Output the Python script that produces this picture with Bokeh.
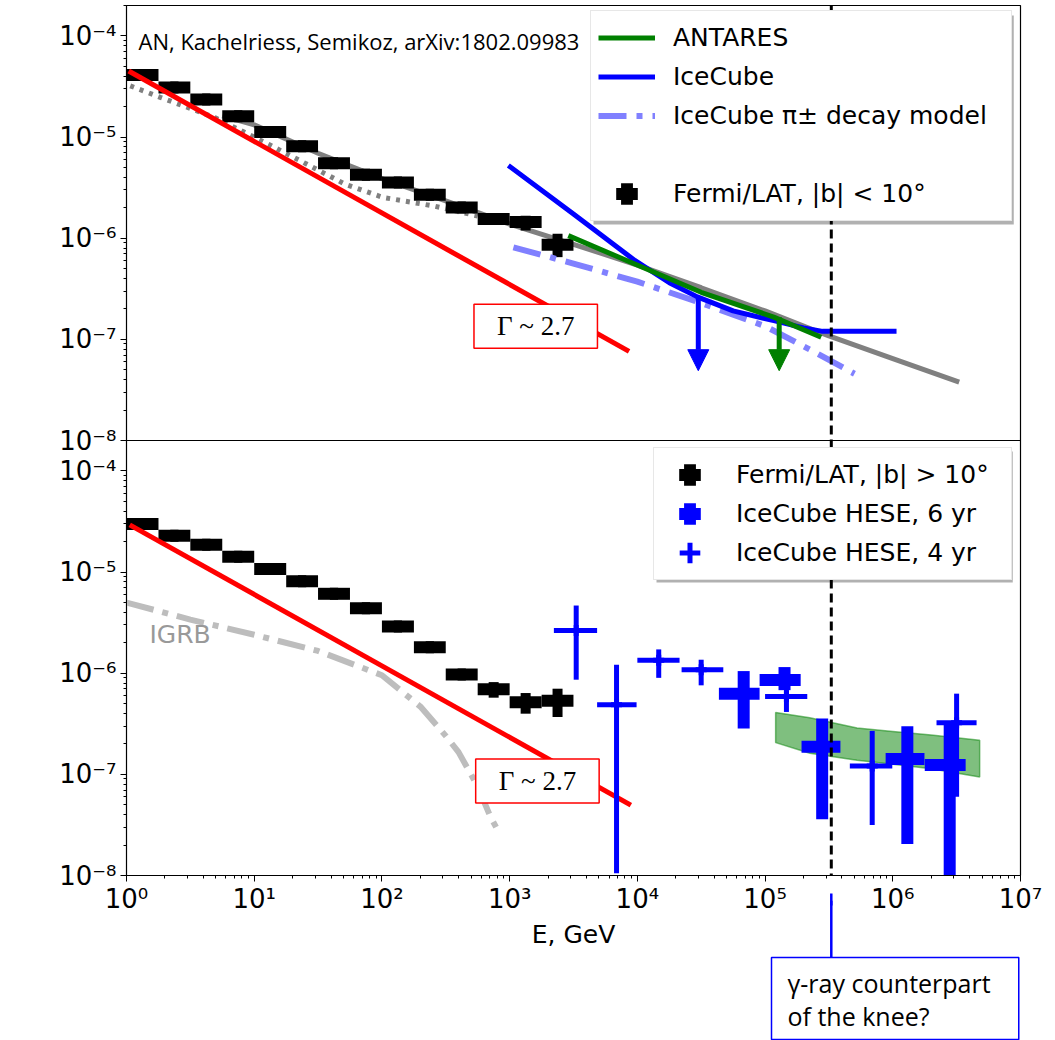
import math
from bokeh.plotting import figure
from bokeh.layouts import column
from bokeh.models import (Range1d, LogScale, FixedTicker, CustomJSTickFormatter, Legend,
                          LegendItem, Label, Span, Arrow, NormalHead)
from bokeh.embed import file_html
from bokeh.resources import INLINE

# ---------------- data: E [GeV], E^2 dN/dE [GeV/(cm^2 s)] ----------------
fermi_edges = [1.0, 1.78, 3.16, 5.62, 10.0, 17.8, 31.6, 56.2, 100.0, 178.0, 316.0, 562.0, 1000.0, 1780.0, 3160.0]

# Fermi/LAT |b| < 10 deg (top panel)
fermi_in = [4.1e-5, 3.1e-5, 2.35e-5, 1.61e-5, 1.12e-5, 8.1e-6, 5.5e-6, 4.24e-6, 3.56e-6, 2.69e-6, 2.01e-6, 1.55e-6, 1.45e-6, 8.6e-7]
fermi_in_hi = [4.3e-5, 3.25e-5, 2.45e-5, 1.68e-5, 1.17e-5, 8.5e-6, 5.75e-6, 4.45e-6, 3.75e-6, 2.85e-6, 2.13e-6, 1.66e-6, 1.67e-6, 1.11e-6]
fermi_in_lo = [3.9e-5, 2.95e-5, 2.25e-5, 1.54e-5, 1.07e-5, 7.7e-6, 5.25e-6, 4.05e-6, 3.4e-6, 2.55e-6, 1.9e-6, 1.45e-6, 1.19e-6, 6.5e-7]

# Fermi/LAT |b| > 10 deg (bottom panel)
fermi_out = [2.98e-5, 2.29e-5, 1.86e-5, 1.42e-5, 1.07e-5, 8.1e-6, 6.1e-6, 4.4e-6, 2.9e-6, 1.81e-6, 9.7e-7, 6.95e-7, 5.15e-7, 5.35e-7]
fermi_out_hi = [3.1e-5, 2.38e-5, 1.93e-5, 1.48e-5, 1.11e-5, 8.4e-6, 6.35e-6, 4.6e-6, 3.0e-6, 1.9e-6, 1.03e-6, 8.17e-7, 6.37e-7, 7.03e-7]
fermi_out_lo = [2.86e-5, 2.2e-5, 1.79e-5, 1.36e-5, 1.03e-5, 7.8e-6, 5.85e-6, 4.2e-6, 2.8e-6, 1.72e-6, 9.1e-7, 5.73e-7, 3.98e-7, 3.69e-7]

# model curves, top panel
gray_fit_E = [5.62, 10.0, 31.6, 100.0, 316.0, 1000.0, 3160.0, 1.0e4, 3.16e4, 1.0e5, 3.16e5, 1.0e6, 3.31e6]
gray_fit_F = [1.62e-5, 1.32e-5, 6.92e-6, 3.89e-6, 2.34e-6, 1.38e-6, 8.71e-7, 5.43e-7, 3.24e-7, 1.91e-7, 1.08e-7, 6.46e-8, 3.77e-8]
gray_dot_E = [1.07, 1.86, 4.9, 12.9, 25.7, 51.3, 102.0, 251.0, 562.0]
gray_dot_F = [3.21e-5, 2.46e-5, 1.56e-5, 8.51e-6, 5.41e-6, 3.43e-6, 2.53e-6, 2.09e-6, 1.66e-6]
red_top_E = [1.04, 8610.0]
red_top_F = [4.5e-5, 7.6e-8]
icecube_E = [977.0, 3160.0, 9550.0, 1.78e4, 2.95e4, 5.62e4, 1.17e5, 2.0e5, 2.82e5, 1.07e6]
icecube_F = [5.25e-6, 1.74e-6, 6.03e-7, 3.63e-7, 2.63e-7, 1.91e-7, 1.53e-7, 1.30e-7, 1.20e-7, 1.20e-7]
antares_E = [2880.0, 9550.0, 3.16e4, 1.17e5, 2.75e5]
antares_F = [1.06e-6, 5.56e-7, 2.92e-7, 1.66e-7, 1.05e-7]
pimodel_E = [1070.0, 3160.0, 1.0e4, 3.16e4, 1.0e5, 2.24e5, 5.01e5]
pimodel_F = [8.13e-7, 5.62e-7, 3.72e-7, 2.29e-7, 1.35e-7, 7.94e-8, 4.57e-8]
# upper-limit arrows (IceCube, ANTARES)
ul_E = [3.0e4, 1.29e5]
ul_F_from = [2.6e-7, 1.66e-7]
ul_F_to = [4.9e-8, 4.9e-8]
ul_color = ["blue", "green"]

# bottom panel
igrb_E = [1.0, 3.16, 10.0, 31.6, 100.0, 200.0, 316.0, 398.0, 562.0, 708.0, 813.0]
igrb_F = [5.0e-6, 3.39e-6, 2.4e-6, 1.66e-6, 9.55e-7, 4.68e-7, 2.4e-7, 1.66e-7, 7.59e-8, 3.8e-8, 2.75e-8]
red_bot_E = [1.06, 8890.0]
red_bot_F = [2.93e-5, 4.97e-8]
band_E = [1.21e5, 2.24e5, 5.25e5, 1.0e6, 2.0e6, 4.79e6]
band_hi = [4.1e-7, 3.63e-7, 2.88e-7, 2.66e-7, 2.45e-7, 2.17e-7]
band_lo = [2.06e-7, 1.62e-7, 1.38e-7, 1.26e-7, 1.135e-7, 9.4e-8]

hese6_E = [6.8e4, 1.42e5, 2.8e5, 1.3e6, 2.79e6]
hese6_Elo = [4.35e4, 9.06e4, 1.93e5, 8.79e5, 1.78e6]
hese6_Ehi = [9.06e4, 1.9e5, 3.89e5, 1.77e6, 3.72e6]
hese6_F = [6.28e-7, 8.55e-7, 1.87e-7, 1.42e-7, 1.24e-7]
hese6_Fhi = [1.05e-6, 1.15e-6, 3.56e-7, 2.99e-7, 3.18e-7]
hese6_Flo = [2.84e-7, 6.8e-7, 3.59e-8, 2.05e-8, 5.0e-9]

hese4_E = [3.32e3, 6.87e3, 1.47e4, 3.16e4, 1.47e5, 6.9e5, 3.16e6]
hese4_Elo = [2.22e3, 4.84e3, 1.0e4, 2.22e4, 1.0e5, 4.61e5, 2.2e6]
hese4_Ehi = [4.84e3, 9.86e3, 2.14e4, 4.71e4, 2.14e5, 9.91e5, 4.53e6]
hese4_F = [2.64e-6, 4.89e-7, 1.34e-6, 1.08e-6, 5.9e-7, 1.21e-7, 3.24e-7]
hese4_Fhi = [4.67e-6, 1.21e-6, 1.72e-6, 1.36e-6, 1.0e-6, 2.69e-7, 6.28e-7]
hese4_Flo = [8.63e-7, 1.05e-8, 9.0e-7, 7.59e-7, 4.14e-7, 3.16e-8, 6.0e-8]

knee_E = 3.3e5

# ---------------- main figure ----------------
X_LO, X_HI = 1.0, 1e7
Y_LO, Y_HI = 1e-8, 2e-4
SPAN = Y_HI / Y_LO          # the top panel sits one full panel height above the bottom one
W = 1055
FRAME_W = 894
ML, MT, MB = 126, 5, 78
FRAME_H = 870
H1 = MT + FRAME_H + MB
Q_TOP = 900                 # page row where the transparent call-out strip starts
H2 = 1040 - Q_TOP

p = figure(width=W, height=H1, x_axis_type="log", y_axis_type="log",
           x_range=Range1d(X_LO, X_HI), y_range=Range1d(Y_LO, Y_HI * SPAN),
           output_backend="svg", toolbar_location=None,
           min_border_left=ML, min_border_right=W - ML - FRAME_W, min_border_top=MT, min_border_bottom=MB)
p.extra_y_ranges = {"top": Range1d(Y_LO / SPAN, Y_HI)}
p.extra_y_scales = {"top": LogScale()}
p.grid.visible = False
p.outline_line_color = "black"
p.outline_line_width = 1.2
p.background_fill_color = "white"
p.border_fill_color = "white"

sup_code = """
let v = tick;
if (span > 1 && v > yhi * 0.75) { v = v / span; }
const e = Math.round(Math.log10(v));
const m = {"-":"\\u207b","0":"\\u2070","1":"\\u00b9","2":"\\u00b2","3":"\\u00b3","4":"\\u2074","5":"\\u2075","6":"\\u2076","7":"\\u2077","8":"\\u2078","9":"\\u2079"};
let s = "10";
for (const c of String(e)) { s += m[c]; }
return s;
"""

ymaj = [10.0 ** k for k in range(-8, -3)]
ymin = [m * 10.0 ** k for k in range(-8, -3) for m in range(2, 10) if m * 10.0 ** k <= Y_HI * 1.001]
p.yaxis.ticker = FixedTicker(ticks=ymaj + [t * SPAN for t in ymaj],
                             minor_ticks=ymin + [t * SPAN for t in ymin])
p.yaxis.formatter = CustomJSTickFormatter(args=dict(span=SPAN, yhi=Y_HI), code=sup_code)
xmaj = [10.0 ** k for k in range(0, 8)]
xmin = [m * 10.0 ** k for k in range(0, 7) for m in range(2, 10)]
p.xaxis.ticker = FixedTicker(ticks=xmaj, minor_ticks=xmin)
p.xaxis.formatter = CustomJSTickFormatter(args=dict(span=1, yhi=1), code=sup_code)

for ax in (p.xaxis[0], p.yaxis[0]):
    ax.major_label_text_font = "DejaVu Sans"
    ax.major_label_text_font_size = "26px"
    ax.major_label_text_color = "black"
    ax.axis_line_color = "black"
    ax.major_tick_line_color = "black"
    ax.minor_tick_line_color = "black"
    ax.major_tick_in = 0
    ax.major_tick_out = 6
    ax.minor_tick_in = 0
    ax.minor_tick_out = 3
    ax.major_label_standoff = 4
p.xaxis.major_label_standoff = 2
p.xaxis.axis_label = "E, GeV"
p.xaxis.axis_label_text_font = "DejaVu Sans"
p.xaxis.axis_label_text_font_size = "25px"
p.xaxis.axis_label_text_font_style = "normal"
p.xaxis.axis_label_text_color = "black"
p.xaxis.axis_label_standoff = 3


def fermi_points(F, Flo, Fhi, rng):
    lo = fermi_edges[:-1]
    hi = fermi_edges[1:]
    c = [math.sqrt(a * b) for a, b in zip(lo, hi)]
    mk = p.scatter(c, F, marker="plus", size=6, line_width=6, line_join="miter", color="black", y_range_name=rng)
    p.segment(lo, F, hi, F, line_color="black", line_width=12, y_range_name=rng)
    p.segment(c, Flo, c, Fhi, line_color="black", line_width=10, y_range_name=rng)
    return mk


# ---------- top panel ----------
T = "top"
p.line(gray_dot_E, gray_dot_F, line_color="#808080", line_width=5, line_dash="4 6", y_range_name=T)
p.line(gray_fit_E, gray_fit_F, line_color="#808080", line_width=5, y_range_name=T)
r_fermi_in = fermi_points(fermi_in, fermi_in_lo, fermi_in_hi, T)
r_pi = p.line(pimodel_E, pimodel_F, line_color="#8080ff", line_width=6, line_dash="28 10 6 10", y_range_name=T)
r_ic = p.line(icecube_E, icecube_F, line_color="blue", line_width=5, y_range_name=T)
r_ant = p.line(antares_E, antares_F, line_color="green", line_width=5, y_range_name=T)
p.line(red_top_E, red_top_F, line_color="red", line_width=5, y_range_name=T)

# ---------- bottom panel ----------
p.line(igrb_E, igrb_F, line_color="#bdbdbd", line_width=6, line_dash="28 9 6 9")
p.patch(band_E + band_E[::-1], band_hi + band_lo[::-1], fill_color="green", fill_alpha=0.5,
        line_color="green", line_alpha=0.5, line_width=1.5)
r_fermi_out = fermi_points(fermi_out, fermi_out_lo, fermi_out_hi, "default")
p.line(red_bot_E, red_bot_F, line_color="red", line_width=5)
r_h4 = p.scatter(hese4_E, hese4_F, marker="cross", size=6, line_width=5, line_color="blue", line_cap="square")
p.segment(hese4_Elo, hese4_F, hese4_Ehi, hese4_F, line_color="blue", line_width=5)
p.segment(hese4_E, hese4_Flo, hese4_E, hese4_Fhi, line_color="blue", line_width=5)
r_h6 = p.scatter(hese6_E, hese6_F, marker="plus", size=6, line_width=6, line_join="miter", color="blue")
p.segment(hese6_Elo, hese6_F, hese6_Ehi, hese6_F, line_color="blue", line_width=12)
p.segment(hese6_E, hese6_Flo, hese6_E, hese6_Fhi, line_color="blue", line_width=12)
r_blank = p.line([], [], line_alpha=0)

# ---------- y-axis title (placed beside the bottom panel) ----------
p.add_layout(Label(x=-94, y=215, x_units="screen", y_units="screen", angle=90, angle_units="deg",
                   text="E²dN/dE, GeV/(cm² s)", text_font="DejaVu Sans", text_font_size="25px",
                   text_color="black", text_align="center", text_baseline="middle"))

# ---------- knee arrow head just below the axis ----------
knee_sx = FRAME_W * (math.log10(knee_E) - math.log10(X_LO)) / (math.log10(X_HI) - math.log10(X_LO))
p.add_layout(Arrow(x_start=knee_sx, y_start=-32, x_end=knee_sx, y_end=-18,
                   start_units="screen", end_units="screen", line_color="blue", line_width=2.5,
                   end=NormalHead(size=12, fill_color="blue", line_color="blue")))

# upper-limit arrows (inside the frame)
for e, f0, f1, col in zip(ul_E, ul_F_from, ul_F_to, ul_color):
    p.add_layout(Arrow(x_start=e, y_start=f0, x_end=e, y_end=f1, y_range_name=T,
                       line_color=col, line_width=5,
                       end=NormalHead(size=21, fill_color=col, line_color=col)))

# panel separator
p.add_layout(Span(location=Y_HI, dimension="width", line_color="black", line_width=1.2))

# ---------- legends (with a soft drop shadow) ----------
tiny = dict(text=" ", text_font_size="1px", x_units="screen", y_units="screen")
shadow = dict(background_fill_color="#a8a8a8", background_fill_alpha=0.9, anchor="top_left", **tiny)
p.add_layout(Label(x=467, y=860, padding=dict(left=210, right=210, top=104, bottom=104), **shadow))
p.add_layout(Label(x=530, y=424, padding=dict(left=178, right=178, top=65, bottom=65), **shadow))

leg_style = dict(label_text_font="DejaVu Sans", label_text_font_size="25px", label_text_color="black",
                 glyph_width=57, glyph_height=39, label_height=39, spacing=0, padding=7,
                 label_standoff=18, border_line_color="#d0d0d0", border_line_width=1.5,
                 background_fill_color="white", background_fill_alpha=1.0)
leg_top = Legend(items=[LegendItem(label="ANTARES", renderers=[r_ant]),
                        LegendItem(label="IceCube", renderers=[r_ic]),
                        LegendItem(label="IceCube π± decay model", renderers=[r_pi]),
                        LegendItem(label=" ", renderers=[r_blank]),
                        LegendItem(label="Fermi/LAT, |b| < 10°", renderers=[r_fermi_in])],
                 location=(464, 654), label_width=331, **leg_style)
leg_bot = Legend(items=[LegendItem(label="Fermi/LAT, |b| > 10°", renderers=[r_fermi_out]),
                        LegendItem(label="IceCube HESE, 6 yr", renderers=[r_h6]),
                        LegendItem(label="IceCube HESE, 4 yr", renderers=[r_h4])],
                 location=(527, 295), label_width=268, **leg_style)
p.add_layout(leg_top)
p.add_layout(leg_bot)

# ---------- texts & overlays ----------
p.add_layout(Label(x=12, y=835, x_units="screen", y_units="screen",
                   text="AN, Kachelriess, Semikoz, arXiv:1802.09983",
                   text_font="Open Sans", text_font_size="22px", text_color="black",
                   text_align="left", text_baseline="alphabetic"))
p.add_layout(Label(x=23, y=241, x_units="screen", y_units="screen", text="IGRB",
                   text_font="DejaVu Sans", text_font_size="25px", text_color="#999999",
                   text_align="left", text_baseline="middle"))
gamma_style = dict(text="Γ ~ 2.7", text_font="Liberation Serif", text_font_size="27px",
                   text_color="black", anchor="center", text_align="center", text_baseline="middle",
                   padding=dict(left=23, right=23, top=7, bottom=7),
                   border_line_color="red", border_line_width=1.5,
                   background_fill_color="white", background_fill_alpha=1.0)
p.add_layout(Label(x=1600, y=1.35e-7, y_range_name=T, **gamma_style))
p.add_layout(Label(x=1650, y=8.6e-8, **gamma_style))

p.add_layout(Span(location=knee_E, dimension="height", line_color="black", line_width=3, line_dash="9 5"))

# ---------------- transparent strip overlapping the bottom margin: call-out box + arrow shaft ----------------
q = figure(width=W, height=H2, x_range=Range1d(ML, ML + FRAME_W), y_range=Range1d(0, H2),
           output_backend="svg", toolbar_location=None, x_axis_location=None, y_axis_location=None,
           min_border_left=ML, min_border_right=W - ML - FRAME_W, min_border_top=0, min_border_bottom=0)
q.margin = (-(H1 - Q_TOP), 0, 0, 0)
q.grid.visible = False
q.outline_line_color = None
q.background_fill_alpha = 0
q.border_fill_alpha = 0
kx = ML + knee_sx
box_left, box_top = 771, 1040 - 957
q.add_layout(Span(location=kx, dimension="height", line_color="blue", line_width=2.5))
q.add_layout(Label(x=box_left, y=box_top, anchor="top_left", text=" ", text_font_size="1px",
                   padding=dict(left=124, right=123, top=41, bottom=40),
                   border_line_color="blue", border_line_width=1.5,
                   background_fill_color="white", background_fill_alpha=1.0))
q.add_layout(Label(x=box_left + 16, y=box_top - 25, text="γ-ray counterpart",
                   text_font="Open Sans", text_font_size="25px", text_color="black",
                   text_align="left", text_baseline="middle"))
q.add_layout(Label(x=box_left + 16, y=box_top - 58, text="of the knee?",
                   text_font="Open Sans", text_font_size="25px", text_color="black",
                   text_align="left", text_baseline="middle"))

layout = column(p, q, spacing=0)
open("out.html", "w").write(file_html(layout, INLINE))
